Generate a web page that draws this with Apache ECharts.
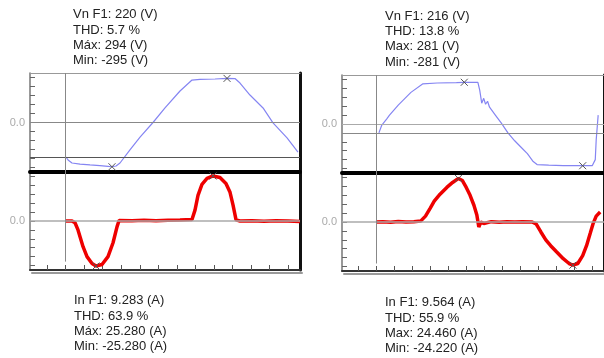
<!DOCTYPE html>
<html><head><meta charset="utf-8">
<script src="https://cdn.jsdelivr.net/npm/echarts@6/dist/echarts.min.js"></script>
<style>html,body{margin:0;padding:0;background:#fff}#c{width:604px;height:358px}</style>
</head><body><div id="c"></div>
<script>
// ---- texts ----
const leftTopText = ['Vn F1: 220 (V)', 'THD: 5.7 %', 'Máx: 294 (V)', 'Min: -295 (V)'];
const leftBottomText = ['In F1: 9.283 (A)', 'THD: 63.9 %', 'Máx: 25.280 (A)', 'Min: -25.280 (A)'];
const rightTopText = ['Vn F1: 216 (V)', 'THD: 13.8 %', 'Max: 281 (V)', 'Min: -281 (V)'];
const rightBottomText = ['In F1: 9.564 (A)', 'THD: 55.9 %', 'Max: 24.460 (A)', 'Min: -24.220 (A)'];
const zeroLabel = '0.0';

// ---- ticks ----
const vTicks = [-300, -240, -180, -120, -60, 0, 60, 120, 180, 240, 300];
const iTicks = [-25, -20, -15, -10, -5, 0, 5, 10, 15, 20, 25];
const xTicks = [1.42, 2.97, 4.51, 6.06, 7.6, 9.15, 10.69, 12.24, 13.78, 15.33, 16.87, 18.42, 19.96, 21.51];

// ---- left panel: voltage (V) vs time (ms) ----
const lvT = [3.0, 3.17, 3.5, 4.17, 5.0, 5.83, 6.5, 6.83, 7.17, 7.5, 8.33, 9.17, 10.25, 11.25, 12.5, 13.5, 14.17, 15.42, 16.42, 17.08, 17.5, 18.33, 19.42, 20.25, 21.42, 22.33];
const lvV = [-230, -250, -270, -277, -283, -287, -292, -295, -290, -270, -183, -97, 0, 97, 210, 283, 287, 290, 294, 293, 263, 183, 97, -3, -103, -197];
// left panel: current (A)
const lcT = [2.92, 3.5, 3.75, 4.0, 4.42, 4.75, 5.17, 5.5, 6.0, 6.5, 6.92, 7.25, 7.42, 8.5, 9.5, 10.5, 11.5, 12.5, 13.5, 13.75, 14.0, 14.33, 14.75, 15.25, 15.83, 16.33, 16.67, 16.92, 17.17, 17.5, 18.5, 19.5, 20.5, 21.5, 22.5];
const lcI = [0, 0, -1, -5, -14.4, -20, -23.9, -25.28, -24.4, -20, -12.2, -3.3, 0.3, 0.2, 0.4, 0.1, 0.4, 0.5, 0.8, 6.1, 14.4, 20.6, 23.9, 25.28, 24.4, 21.1, 16.1, 8.9, 0.6, 0, 0.2, -0.1, 0.2, 0, -0.3];
const lCursor = 2.92;
const lLevel = -233;

// ---- right panel ----
const rvT = [3.17, 3.42, 3.83, 4.08, 4.83, 5.92, 6.92, 8.17, 9.83, 10.5, 11.67, 11.83, 12.0, 12.17, 12.33, 12.5, 12.67, 12.83, 13.17, 13.67, 14.25, 14.83, 15.42, 15.92, 16.42, 16.75, 17.75, 19.0, 20.67, 21.5, 21.75, 21.83, 22.0];
const rvV = [-60, -7, 33, 60, 127, 213, 270, 276, 279, 281, 280, 227, 140, 173, 133, 153, 113, 120, 60, 7, -60, -113, -160, -200, -253, -273, -277, -280, -281, -280, -240, -107, 60];
const rcT = [2.92, 3.5, 4.17, 4.83, 5.5, 6.17, 6.75, 7.17, 7.58, 7.92, 8.42, 9.0, 9.5, 10.0, 10.33, 10.67, 11.0, 11.33, 11.58, 11.75, 11.92, 12.17, 12.83, 13.5, 14.17, 14.83, 15.5, 16.33, 16.67, 17.08, 17.5, 17.92, 18.42, 19.0, 19.5, 19.83, 20.25, 20.67, 21.0, 21.33, 21.58, 21.83, 22.17];
const rcI = [0, 0.2, -0.1, 0.3, 0, 0.2, 0.5, 3.3, 7.8, 11.7, 15.6, 19.4, 22.2, 24.46, 23.3, 19.4, 15, 9.4, 3.9, -2.8, 0, -0.8, 0.2, -0.1, 0.2, 0, 0.1, 0, -1.1, -5.6, -10, -13.3, -16.7, -20.6, -23.3, -24.22, -23.3, -18.9, -13.3, -6.1, -0.6, 3.3, 5.6];
const rCursor = 2.92;
const rLevel = -60;

const FONT = "'Liberation Sans', Arial, sans-serif";
const zip = (t, v) => t.map((x, i) => [x, v[i]]);

const panels = [
  {left: 30, upTop: 73, upH: 99, loTop: 172, loH: 98, top: leftTopText, bottom: leftBottomText,
   tx: 73, ty: 7, bx: 74, by: 293, vt: lvT, vv: lvV, ct: lcT, ci: lcI, cursor: lCursor, level: lLevel, levelColor: '#555', zeroColor: '#888', cursorEnd: -22.8},
  {left: 342, upTop: 75, upH: 98, loTop: 173, loH: 98, top: rightTopText, bottom: rightBottomText,
   tx: 385, ty: 8.5, bx: 385, by: 295, vt: rvT, vv: rvV, ct: rcT, ci: rcI, cursor: rCursor, level: rLevel, levelColor: '#888', zeroColor: '#aaa', cursorEnd: -23.3}
];

const grid = [], xAxis = [], yAxis = [], series = [], title = [];
const xSym = 'path://M0,0L10,10M10,0L0,10';

panels.forEach((p, k) => {
  grid.push({left: p.left, top: p.upTop, width: 270, height: p.upH});
  grid.push({left: p.left, top: p.loTop, width: 270, height: p.loH});
  const gU = 2 * k, gL = 2 * k + 1;
  const baseX = {type: 'value', min: 0, max: 22.5, splitLine: {show: false}, axisLabel: {show: false}, axisTick: {show: false}};
  xAxis.push(Object.assign({}, baseX, {gridIndex: gU, position: 'bottom', axisLine: {onZero: false, lineStyle: {color: '#000', width: 4}}}));
  xAxis.push(Object.assign({}, baseX, {gridIndex: gU, position: 'top', axisLine: {onZero: false, lineStyle: {color: '#999', width: 1}}}));
  xAxis.push(Object.assign({}, baseX, {gridIndex: gL, position: 'bottom',
    axisLine: {onZero: false, lineStyle: {color: '#333', width: 2, shadowColor: '#9a9a9a', shadowOffsetY: 3, shadowOffsetX: 2, shadowBlur: 0}},
    axisTick: {show: true, inside: true, length: 5, customValues: xTicks, lineStyle: {color: '#555', width: 1}}}));
  const leftY = (g, min, max, ticks) => ({type: 'value', gridIndex: g, position: 'left', min: min, max: max,
    splitLine: {show: false},
    axisLine: {show: true, onZero: false, lineStyle: {color: '#777', width: 1.5}},
    axisTick: {show: true, inside: true, length: 5, customValues: ticks, lineStyle: {color: '#666', width: 1}},
    axisLabel: {show: true, customValues: [0], formatter: () => zeroLabel, color: '#aaa', fontSize: 11, fontFamily: FONT, margin: 5}});
  const rightY = (g, min, max) => ({type: 'value', gridIndex: g, position: 'right', min: min, max: max,
    splitLine: {show: false}, axisTick: {show: false}, axisLabel: {show: false},
    axisLine: {show: true, onZero: false, lineStyle: {color: '#111', width: 3}}});
  yAxis.push(leftY(gU, -330, 330, vTicks));
  yAxis.push(rightY(gU, -330, 330));
  yAxis.push(leftY(gL, -27.5, 27.5, iTicks));
  yAxis.push(rightY(gL, -27.5, 27.5));

  const mp = {symbol: xSym, symbolSize: 7, silent: true, label: {show: false},
    itemStyle: {color: 'none', borderColor: '#555', borderWidth: 1},
    data: [{type: 'max'}, {type: 'min'}]};

  series.push({type: 'line', name: 'V' + k, xAxisIndex: 3 * k, yAxisIndex: 4 * k, data: zip(p.vt, p.vv),
    showSymbol: false, symbol: 'none', lineStyle: {color: '#8585f2', width: 1.2}, z: 3,
    markPoint: mp,
    markLine: {silent: true, symbol: 'none', label: {show: false}, animation: false,
      data: [
        {yAxis: 0, lineStyle: {color: p.zeroColor, width: 1, type: 'solid'}},
        {yAxis: p.level, lineStyle: {color: p.levelColor, width: 1, type: 'solid'}},
        {xAxis: p.cursor, lineStyle: {color: '#888', width: 1, type: 'solid'}}
      ]}});
  series.push({type: 'line', name: 'I' + k, xAxisIndex: 3 * k + 2, yAxisIndex: 4 * k + 2, data: zip(p.ct, p.ci),
    showSymbol: false, symbol: 'none', lineStyle: {color: '#ee0000', width: 3.5}, z: 3,
    markPoint: mp,
    markLine: {silent: true, symbol: 'none', label: {show: false}, animation: false,
      data: [
        {yAxis: 0, lineStyle: {color: '#aaa', width: 1.5, type: 'solid'}},
        [{coord: [p.cursor, 27.5], lineStyle: {color: '#888', width: 1, type: 'solid'}}, {coord: [p.cursor, p.cursorEnd]}]
      ]}});

  const ts = {fontSize: 13, lineHeight: 15.3, fontWeight: 'normal', color: '#222', fontFamily: FONT};
  title.push({text: p.top.join('\n'), left: p.tx, top: p.ty, padding: 0, textStyle: ts});
  title.push({text: p.bottom.join('\n'), left: p.bx, top: p.by, padding: 0, textStyle: ts});
});

const chart = echarts.init(document.getElementById('c'), null, {renderer: 'canvas'});
chart.setOption({animation: false, backgroundColor: '#fff', title, grid, xAxis, yAxis, series});
</script>
</body></html>
